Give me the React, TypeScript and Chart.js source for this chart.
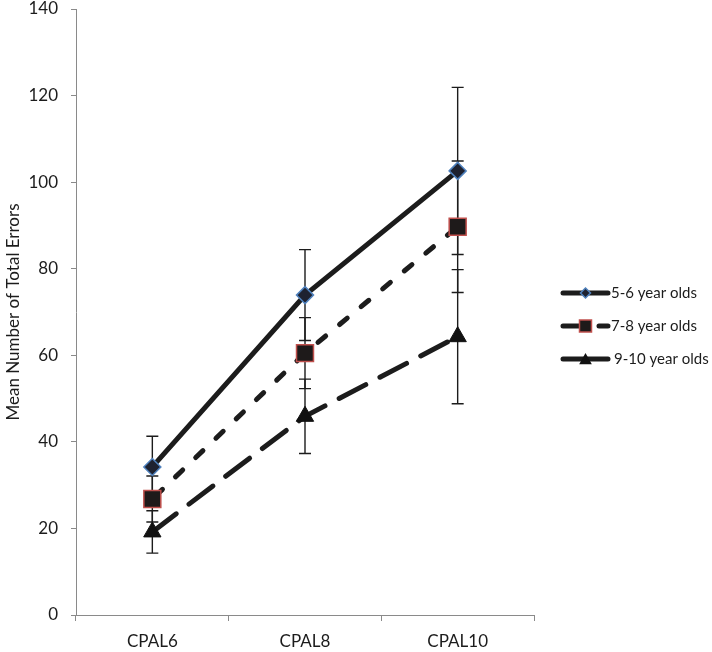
import { useEffect, useRef } from 'react';
import { Chart, registerables } from 'chart.js';

Chart.register(...registerables);

const categories = ['CPAL6', 'CPAL8', 'CPAL10'];
const seriesNames = ['5-6 year olds', '7-8 year olds', '9-10 year olds'];
const means56 = [34.2, 73.9, 102.6];
const means78 = [26.8, 60.5, 89.7];
const means910 = [19.2, 45.9, 64.3];
const err56 = [7.1, 10.5, 19.3];
const err78 = [5.3, 8.2, 15.2];
const err910 = [4.9, 8.6, 15.5];
const yMin = 0;
const yMax = 140;
const yStep = 20;
const yTitle = 'Mean Number of Total Errors';

const errors = [err56, err78, err910];
const FONT = 'Lato, "Open Sans", sans-serif';
const INK = '#1c1c1c';
const AXIS = '#8a8a8a';

const errorBarsPlugin = {
  id: 'errorBars',
  beforeDatasetsDraw(chart: any) {
    const ctx = chart.ctx;
    const y = chart.scales.y;
    chart.data.datasets.forEach((ds: any, i: number) => {
      const meta = chart.getDatasetMeta(i);
      const errs = errors[i];
      meta.data.forEach((pt: any, j: number) => {
        const v = ds.data[j];
        const top = y.getPixelForValue(v + errs[j]);
        const bot = y.getPixelForValue(v - errs[j]);
        ctx.save();
        ctx.strokeStyle = INK;
        ctx.lineWidth = 1.4;
        ctx.setLineDash([]);
        ctx.beginPath();
        ctx.moveTo(pt.x, top);
        ctx.lineTo(pt.x, bot);
        ctx.moveTo(pt.x - 6, top);
        ctx.lineTo(pt.x + 6, top);
        ctx.moveTo(pt.x - 6, bot);
        ctx.lineTo(pt.x + 6, bot);
        ctx.stroke();
        ctx.restore();
      });
    });
  },
};

function drawMarker(ctx: CanvasRenderingContext2D, kind: number, x: number, y: number, s: number) {
  ctx.save();
  ctx.setLineDash([]);
  ctx.beginPath();
  if (kind === 0) {
    ctx.moveTo(x, y - s);
    ctx.lineTo(x + s, y);
    ctx.lineTo(x, y + s);
    ctx.lineTo(x - s, y);
    ctx.closePath();
    ctx.fillStyle = '#1e2230';
    ctx.fill();
    ctx.strokeStyle = '#4f81bd';
    ctx.lineWidth = 1.5;
    ctx.stroke();
  } else if (kind === 1) {
    ctx.rect(x - s, y - s, 2 * s, 2 * s);
    ctx.fillStyle = '#1e1a1a';
    ctx.fill();
    ctx.strokeStyle = '#c0504d';
    ctx.lineWidth = 1.5;
    ctx.stroke();
  } else {
    ctx.moveTo(x, y - s);
    ctx.lineTo(x + s * 0.9, y + s * 0.6);
    ctx.lineTo(x - s * 0.9, y + s * 0.6);
    ctx.closePath();
    ctx.fillStyle = '#111';
    ctx.fill();
  }
  ctx.restore();
}

const legendPlugin = {
  id: 'sideLegend',
  afterDraw(chart: any) {
    const ctx = chart.ctx;
    const rows = [293, 326, 359];
    const x0 = 563;
    const x1 = 608;
    chart.data.datasets.forEach((ds: any, i: number) => {
      const y = rows[i];
      ctx.save();
      ctx.strokeStyle = INK;
      ctx.lineWidth = 5;
      ctx.lineCap = 'round';
      ctx.beginPath();
      if (i === 1) {
        ctx.moveTo(x0, y);
        ctx.lineTo(x0 + 18, y);
        ctx.moveTo(x1 - 9, y);
        ctx.lineTo(x1, y);
      } else {
        ctx.moveTo(x0, y);
        ctx.lineTo(x1, y);
      }
      ctx.stroke();
      ctx.restore();
      const mx = (x0 + x1) / 2;
      if (i === 0) drawMarker(ctx, 0, mx, y, 5);
      else if (i === 1) drawMarker(ctx, 1, mx, y, 6);
      else drawMarker(ctx, 2, mx, y + 1, 7);
      ctx.save();
      ctx.fillStyle = INK;
      ctx.font = '15px ' + FONT;
      ctx.textAlign = 'left';
      ctx.textBaseline = 'middle';
      ctx.fillText(ds.label, i === 2 ? 614 : 611, y);
      ctx.restore();
    });
  },
};

export default function App() {
  const ref = useRef<HTMLCanvasElement | null>(null);

  useEffect(() => {
    document.body.style.margin = '0';
    let chart: Chart | null = null;
    let cancelled = false;
    const make = () => {
      if (cancelled || !ref.current) return;
      chart = new Chart(ref.current, {
        type: 'line',
        data: {
          labels: categories,
          datasets: [
            {
              label: seriesNames[0],
              data: means56,
              borderColor: INK,
              borderWidth: 5,
              borderCapStyle: 'round',
              pointStyle: 'rectRot',
              pointRadius: 8.5,
              pointBackgroundColor: '#1e2230',
              pointBorderColor: '#4f81bd',
              pointBorderWidth: 1.5,
              fill: false,
              tension: 0,
              clip: false,
            },
            {
              label: seriesNames[1],
              data: means78,
              borderColor: INK,
              borderWidth: 5,
              borderCapStyle: 'round',
              borderDash: [10, 18],
              borderDashOffset: -4,
              pointStyle: 'rect',
              pointRadius: 12,
              pointBackgroundColor: '#1e1a1a',
              pointBorderColor: '#c0504d',
              pointBorderWidth: 1.5,
              fill: false,
              tension: 0,
              clip: false,
            },
            {
              label: seriesNames[2],
              data: means910,
              borderColor: INK,
              borderWidth: 5,
              borderCapStyle: 'round',
              borderDash: [30, 16],
              pointStyle: 'triangle',
              pointRadius: 10,
              pointBackgroundColor: '#111',
              pointBorderColor: '#111',
              pointBorderWidth: 1,
              fill: false,
              tension: 0,
              clip: false,
            },
          ],
        },
        options: {
          responsive: false,
          animation: false,
          devicePixelRatio: 1,
          layout: { autoPadding: false, padding: { top: 9, right: 178, left: 0, bottom: 0 } },
          plugins: {
            legend: { display: false },
            tooltip: { enabled: false },
          },
          scales: {
            x: {
              type: 'category',
              offset: true,
              grid: {
                display: true,
                offset: true,
                drawOnChartArea: false,
                drawTicks: true,
                tickLength: 6,
                color: AXIS,
              },
              border: { display: true, color: AXIS, width: 1 },
              ticks: {
                color: INK,
                font: { family: FONT, size: 17 },
                padding: 10,
                maxRotation: 0,
              },
              afterFit(scale: any) {
                scale.height = 37;
                scale.paddingLeft = 0;
                scale.paddingRight = 0;
              },
            },
            y: {
              min: yMin,
              max: yMax,
              grid: {
                display: true,
                drawOnChartArea: false,
                drawTicks: true,
                tickLength: 5,
                color: AXIS,
              },
              border: { display: true, color: AXIS, width: 1 },
              ticks: {
                stepSize: yStep,
                color: INK,
                font: { family: FONT, size: 17 },
                padding: 13,
              },
              title: {
                display: true,
                text: yTitle,
                color: INK,
                font: { family: FONT, size: 17 },
                padding: { top: 3, bottom: 0 },
              },
              afterFit(scale: any) {
                scale.width = 76;
                scale.paddingTop = 0;
                scale.paddingBottom = 0;
              },
            },
          },
        },
        plugins: [errorBarsPlugin, legendPlugin],
      } as any);
    };
    const fontsApi = (document as any).fonts;
    if (fontsApi && fontsApi.load) {
      Promise.all([fontsApi.load('15px Lato'), fontsApi.load('17px Lato')])
        .catch(() => null)
        .then(make);
    } else {
      make();
    }
    return () => {
      cancelled = true;
      if (chart) chart.destroy();
    };
  }, []);

  return (
    <canvas
      ref={ref}
      width={712}
      height={652}
      style={{ display: 'block', width: 712, height: 652 }}
    />
  );
}
